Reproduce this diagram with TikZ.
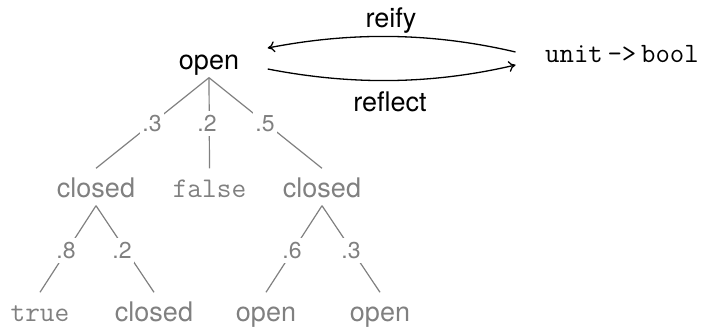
\documentclass[tikz,border=0pt]{standalone}
\usepackage{fontspec}
\setmainfont{TeX Gyre Heros}
\usetikzlibrary{arrows.meta}
\definecolor{tgray}{RGB}{128,128,128}
\begin{document}
\begin{tikzpicture}[x=1pt,y=-1pt,
  every node/.style={inner sep=1.5pt, text height=28pt, text depth=6pt, anchor=base},
  blk/.style={text=black, font=\fontsize{27}{32}\selectfont},
  fnnode/.style={text=black, font=\fontsize{28}{32}\selectfont\ttfamily},
  tnode/.style={text=tgray, font=\fontsize{27}{32}\selectfont},
  ttnode/.style={text=tgray, font=\fontsize{28.5}{32}\selectfont\ttfamily},
  lab/.style={text=tgray, fill=white, font=\fontsize{23}{28}\selectfont, inner sep=2pt, text height=19pt, text depth=2pt},
  tline/.style={draw=tgray, line width=1.2pt},
  arr/.style={draw=black, line width=1.3pt, -{To[length=7pt,width=11pt]}}
]
\useasboundingbox (0,0) rectangle (704,328);
% nodes
\node[blk] (root) at (209,70) {open};
\node[blk] (reify) at (391,28) {reify};
\node[blk] (reflect) at (390,112) {reflect};
\node[fnnode] (fn) at (622,63) {unit\,->\,bool};
\node[tnode] (c1) at (96,198) {closed};
\node[ttnode] (f) at (209.5,198) {false};
\node[tnode] (c2) at (322,198) {closed};
\node[ttnode] (t) at (40,322) {true};
\node[tnode] (c3) at (154,322) {closed};
\node[tnode] (o1) at (266,322) {open};
\node[tnode] (o2) at (380,322) {open};
% tree edges
\draw[tline] (root.south) -- (c1.north);
\draw[tline] (root.south) -- (f.north);
\draw[tline] (root.south) -- (c2.north);
\draw[tline] (c1.south) -- (t.north);
\draw[tline] (c1.south) -- (c3.north);
\draw[tline] (c2.south) -- (o1.north);
\draw[tline] (c2.south) -- (o2.north);
% edge labels
\node[lab] (p1) at (152,132) {.3};
\node[lab] (p2) at (207,132) {.2};
\node[lab] (p3) at (265,132) {.5};
\node[lab] (p4) at (66,259) {.8};
\node[lab] (p5) at (122,259) {.2};
\node[lab] (p6) at (292,259) {.6};
\node[lab] (p7) at (351,259) {.3};
% arrows
\draw[arr] ([xshift=-28pt]fn.west) .. controls (430,32) and (350,32) .. ([xshift=27pt,yshift=11pt]root.east);
\draw[arr] ([xshift=27pt,yshift=-10pt]root.east) .. controls (350,85) and (430,85) .. ([xshift=-28pt,yshift=-13pt]fn.west);
\end{tikzpicture}
\end{document}
